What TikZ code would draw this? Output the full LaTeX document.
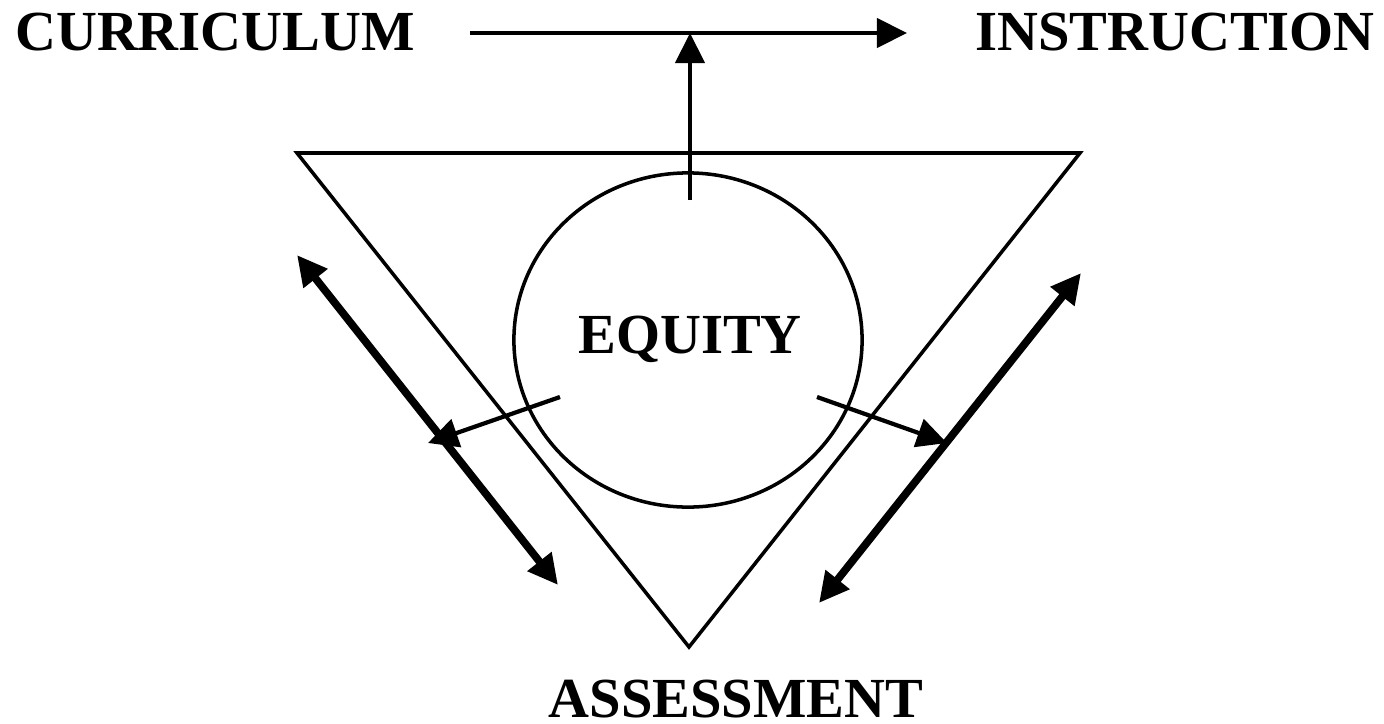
\documentclass[tikz,border=0pt]{standalone}
\usepackage{fontspec}
\setmainfont{Liberation Serif}
\usetikzlibrary{arrows.meta,shapes.geometric}
\tikzset{
  lbl/.style={inner sep=0pt, anchor=base, font=\bfseries\fontsize{16.1pt}{19pt}\selectfont},
  thin line/.style={line width=1.0pt},
  arrow line/.style={line width=1.2pt},
  thick line/.style={line width=2.2pt},
  tip/.style={-{Triangle[length=3mm,width=2.9mm]}},
  tips/.style={{Triangle[length=3mm,width=2.9mm]}-{Triangle[length=3mm,width=2.9mm]}}
}
\begin{document}
\begin{tikzpicture}[x=0.01cm,y=-0.01cm]
\useasboundingbox (0,0) rectangle (1384,724);
% labels
\node[lbl] (curr) at (215,50) {CURRICULUM};
\node[lbl] (instr) at (1175,50) {INSTRUCTION};
\node[lbl] (equity) at (690,353) {EQUITY};
\node[lbl] (assess) at (736,717) {ASSESSMENT};
% triangle
\coordinate (tl) at (297,153);
\coordinate (tr) at (1080,153);
\coordinate (ap) at (689,647);
\draw[thin line, line join=miter] (tl) -- (tr) -- (ap) -- cycle;
% circle
\node[draw, thin line, ellipse, minimum width=3.48cm, minimum height=3.34cm, inner sep=0pt] (circ) at (688,340) {};
% top arrows
\coordinate (hs) at (470,33);
\coordinate (he) at (907,33);
\draw[arrow line, tip] (hs) -- (he);
\coordinate (vs) at (690,200);
\coordinate (ve) at (690,33);
\draw[arrow line, tip] (vs) -- (ve);
% left side
\coordinate (la) at (297,255);
\coordinate (lb) at (558,585);
\draw[thick line, tips] (la) -- (lb);
\coordinate (ls) at (560,397);
\coordinate (le) at (428,443);
\draw[arrow line, tip] (ls) -- (le);
% right side
\coordinate (ra) at (1081,273);
\coordinate (rb) at (819,603);
\draw[thick line, tips] (ra) -- (rb);
\coordinate (rs) at (817,397);
\coordinate (re) at (947,443);
\draw[arrow line, tip] (rs) -- (re);
\end{tikzpicture}
\end{document}
